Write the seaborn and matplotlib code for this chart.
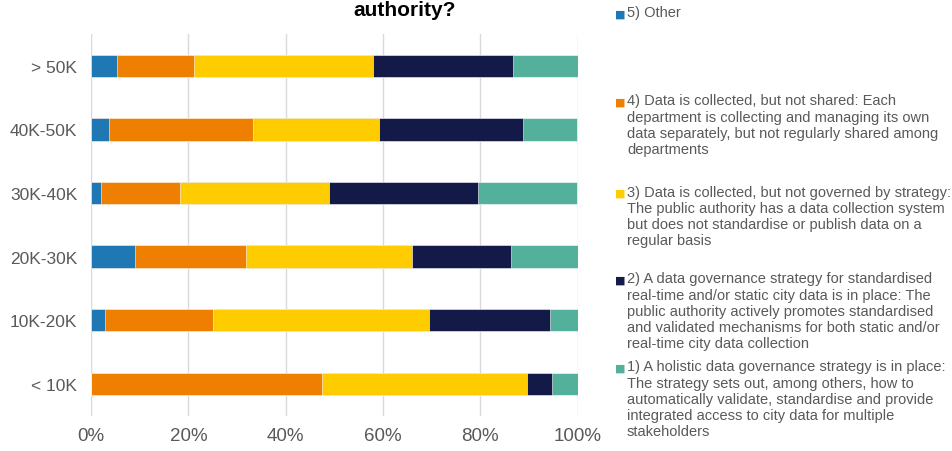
import pandas as pd
import matplotlib.pyplot as plt
import seaborn as sns

# population size classes, top to bottom
sizes = ['> 50K', '40K-50K', '30K-40K', '20K-30K', '10K-20K', '< 10K']

# share of answers per class (%)
other = [5.3, 3.7, 2.0, 9.1, 2.8, 0.0]
not_shared = [15.8, 29.6, 16.3, 22.7, 22.2, 47.4]
not_governed = [36.8, 25.9, 30.6, 34.1, 44.4, 42.1]
strategy = [28.9, 29.6, 30.6, 20.5, 25.0, 5.3]
holistic = [13.2, 11.1, 20.4, 13.6, 5.6, 5.2]

labels = [
    '5) Other',
    '4) Data is collected, but not shared: Each\ndepartment is collecting and managing its own\n'
    'data separately, but not regularly shared among\ndepartments',
    '3) Data is collected, but not governed by strategy:\nThe public authority has a data collection system\n'
    'but does not standardise or publish data on a\nregular basis',
    '2) A data governance strategy for standardised\nreal-time and/or static city data is in place: The\n'
    'public authority actively promotes standardised\nand validated mechanisms for both static and/or\n'
    'real-time city data collection',
    '1) A holistic data governance strategy is in place:\nThe strategy sets out, among others, how to\n'
    'automatically validate, standardise and provide\nintegrated access to city data for multiple\nstakeholders',
]
colors = ['#1f77b4', '#ef7f00', '#ffcc00', '#131a48', '#53b19b']

sns.set_style('white')
plt.rcParams['font.family'] = ['Liberation Sans', 'DejaVu Sans']
grey = '#595959'

df = pd.DataFrame({'size': sizes, 'other': other, 'not_shared': not_shared,
                   'not_governed': not_governed, 'strategy': strategy, 'holistic': holistic})
series = ['other', 'not_shared', 'not_governed', 'strategy', 'holistic']
cum = df[series].cumsum(axis=1)

fig = plt.figure(figsize=(9.52, 4.52), dpi=100)
ax = fig.add_axes([0.0956, 0.0783, 0.5112, 0.8443])

# stacked bars: draw cumulative totals from the outside in
for col, c in reversed(list(zip(series, colors))):
    sns.barplot(x=cum[col], y=df['size'], orient='h', color=c, width=0.35,
                edgecolor='white', linewidth=0.4, saturation=1, ax=ax)

ax.set_xlim(0, 100)
ax.set_xticks(range(0, 101, 20))
ax.set_xticklabels([f'{v}%' for v in range(0, 101, 20)])
ax.xaxis.grid(True, color='#d9d9d9', linewidth=1)
ax.set_axisbelow(True)
for s in ax.spines.values():
    s.set_visible(False)
ax.set_xlabel('')
ax.set_ylabel('')
ax.tick_params(axis='x', labelsize=13.5, colors=grey, length=0, pad=8)
ax.tick_params(axis='y', labelsize=12.5, colors=grey, length=0, pad=10)

fig.text(0.425, 1 - 1 / 452, 'authority?', ha='center', va='top',
         fontsize=15, fontweight='bold', color='black')

# legend entries, spread down the right side like the original
ys = [14, 102, 193, 280, 368]
for lab, c, y in zip(labels, colors, ys):
    fig.text(615 / 952, 1 - (y + 0.5) / 452, '\u25a0', color=c, fontsize=8,
             ha='left', va='center', family='DejaVu Sans')
    fig.text(627 / 952, 1 - (y - 7.5) / 452, lab, color=grey, fontsize=10.5,
             ha='left', va='top', linespacing=1.2)

fig.savefig('out.png', dpi=100)
